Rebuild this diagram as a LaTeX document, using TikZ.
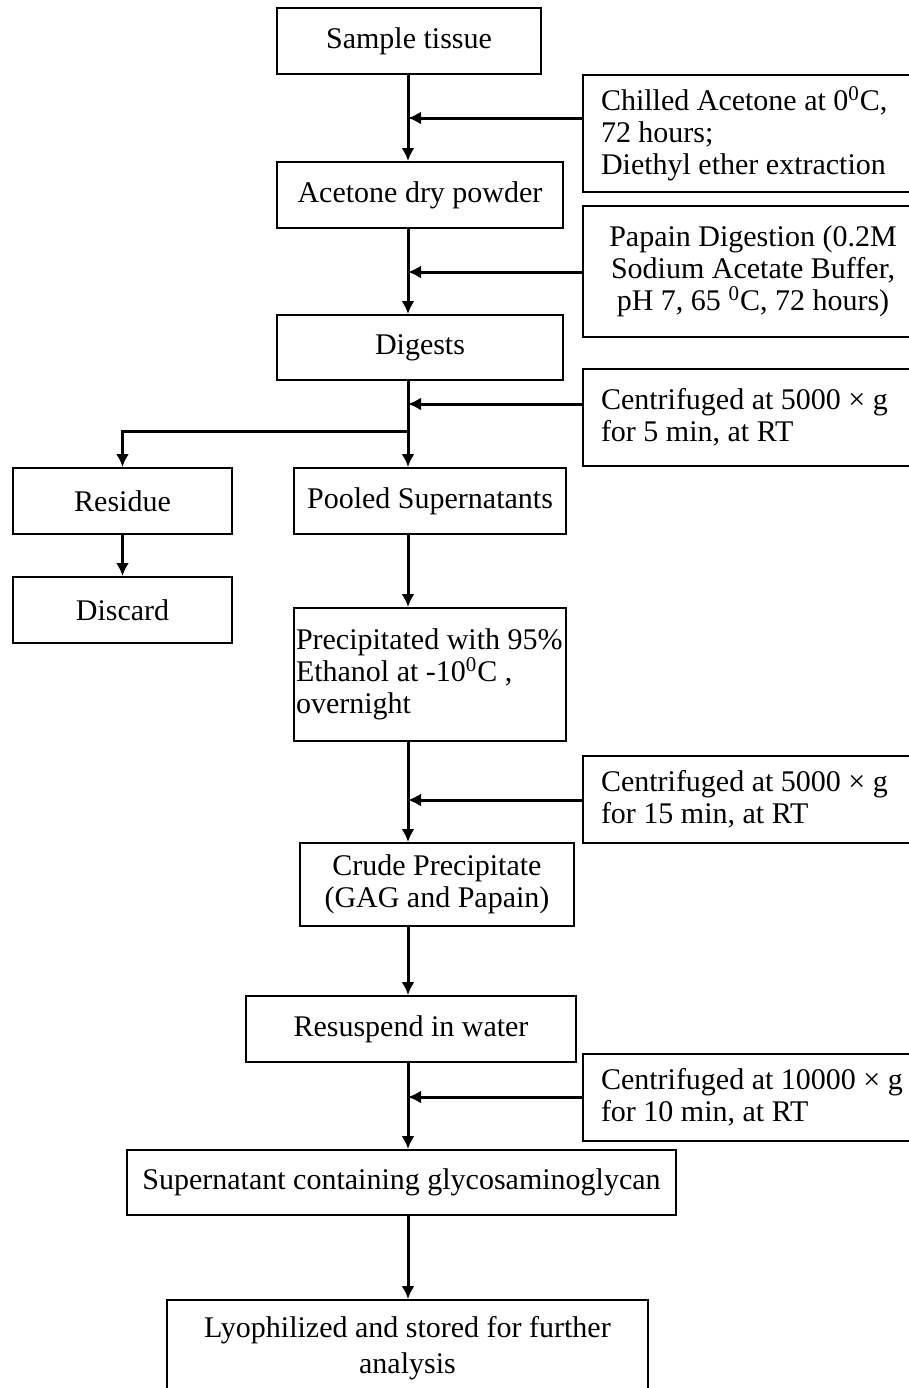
\documentclass[tikz,border=0pt]{standalone}
\usepackage{fontspec}
\setmainfont{Liberation Serif}
\usetikzlibrary{arrows.meta}

\begin{document}
\begin{tikzpicture}[x=0.5pt,y=-0.5pt,
        every node/.style={font=\fontsize{15}{16}\selectfont},
        stepbox/.style={draw, line width=1pt, minimum height=33pt, inner sep=0pt, align=center},
        sidebox/.style={draw, line width=1pt, text width=152pt, inner xsep=9pt, inner ysep=0pt, align=flush left},
        flow/.style={line width=1.5pt, -{Latex[length=6.5pt,width=6.5pt]}}]
            \useasboundingbox (0,0) rectangle (909,1388);
            \clip (0,0) rectangle (909,1388);

            \node[stepbox, minimum width=132pt] (tissue) at (409,41) {Sample tissue};
            \node[stepbox, minimum width=143pt] (acetone) at (420,195) {Acetone dry powder};
            \node[stepbox, minimum width=143pt, minimum height=32.5pt] (digests) at (420,347.5) {Digests};
            \node[stepbox, minimum width=109.5pt] (residue) at (122.5,501) {Residue};
            \node[stepbox, minimum width=136pt] (pooled) at (430,501) {Pooled Supernatants};
            \node[stepbox, minimum width=109.5pt] (discard) at (122.5,610) {Discard};
            \node[stepbox, minimum height=66.5pt, text width=134pt, inner xsep=1pt, align=flush left] (precip) at (430,674.5) {Precipitated with 95\%\\Ethanol at -10\textsuperscript{0}C ,\\overnight};
            \node[stepbox, minimum width=137pt, minimum height=41.5pt] (crude) at (437,884.5) {Crude Precipitate\\(GAG and Papain)};
            \node[stepbox, minimum width=165pt] (resusp) at (411,1029) {Resuspend in water};
            \node[stepbox, minimum width=274.5pt, minimum height=32.5pt] (superna) at (401.5,1182.5) {Supernatant containing glycosaminoglycan};
            \node[stepbox, minimum width=240.5pt, minimum height=48pt, font=\fontsize{15}{18}\selectfont] (lyoph) at (407.5,1348) {Lyophilized and stored for further\\analysis};

            \node[sidebox, minimum height=58.5pt] (chill) at (753,133.5) {Chilled Acetone at 0\textsuperscript{0}C,\\72 hours;\\Diethyl ether extraction};
            \node[sidebox, align=flush center, minimum height=65.5pt] (papain) at (753,271.5) {Papain Digestion (0.2M\\Sodium Acetate Buffer,\\pH 7, 65 \textsuperscript{0}C, 72 hours)};
            \node[sidebox, minimum height=48.5pt] (cent1) at (753,417.5) {Centrifuged at 5000 × g\\for 5 min, at RT};
            \node[sidebox, minimum height=43.5pt] (cent2) at (753,799.5) {Centrifuged at 5000 × g\\for 15 min, at RT};
            \node[sidebox, minimum height=43.5pt] (cent3) at (753,1097.5) {Centrifuged at 10000 × g\\for 10 min, at RT};

            \coordinate (spine) at (408,0);
            \coordinate (in1) at (408,118);
            \coordinate (in2) at (408,272);
            \coordinate (in3) at (408,404);
            \coordinate (split) at (408,431);
            \coordinate (in4) at (408,800);
            \coordinate (in5) at (408,1097);

            \draw[flow] (tissue.south -| spine) -- (acetone.north -| spine);
            \draw[flow] (chill.west |- in1) -- (in1);
            \draw[flow] (acetone.south -| spine) -- (digests.north -| spine);
            \draw[flow] (papain.west |- in2) -- (in2);
            \draw[flow] (digests.south -| spine) -- (pooled.north -| spine);
            \draw[flow] (cent1.west |- in3) -- (in3);
            \draw[flow] (split) -| (residue.north);
            \draw[flow] (residue) -- (discard);
            \draw[flow] (pooled.south -| spine) -- (precip.north -| spine);
            \draw[flow] (precip.south -| spine) -- (crude.north -| spine);
            \draw[flow] (cent2.west |- in4) -- (in4);
            \draw[flow] (crude.south -| spine) -- (resusp.north -| spine);
            \draw[flow] (resusp.south -| spine) -- (superna.north -| spine);
            \draw[flow] (cent3.west |- in5) -- (in5);
            \draw[flow] (superna.south -| spine) -- (lyoph.north -| spine);
\end{tikzpicture}
\end{document}
